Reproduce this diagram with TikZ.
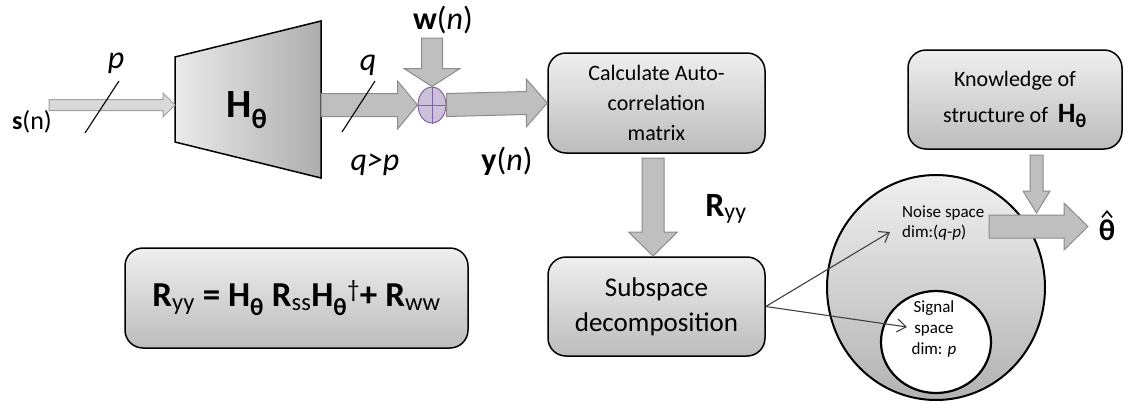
\documentclass[tikz,border=0pt]{standalone}
\usepackage{fontspec}
\setmainfont{Carlito}
\usetikzlibrary{calc,shapes.geometric,arrows.meta}
\definecolor{arrfill}{HTML}{BFBFBF}
\definecolor{arrdraw}{HTML}{8C8C8C}
\definecolor{lfill}{HTML}{D9D9D9}
\definecolor{ldraw}{HTML}{A0A0A0}
\definecolor{sumfill}{HTML}{CCC0DA}
\definecolor{sumdraw}{HTML}{8064A2}
\definecolor{boxtop}{HTML}{EFEFEF}
\definecolor{boxbot}{HTML}{BCBCBC}
\definecolor{thinline}{HTML}{404040}
\newcommand{\hblock}[6]{\draw[#1] ($(#2)+(0,#4)$) -- ($(#3)+(-#6,#4)$) -- ($(#3)+(-#6,#5)$) -- (#3) -- ($(#3)+(-#6,-#5)$) -- ($(#3)+(-#6,-#4)$) -- ($(#2)+(0,-#4)$) -- cycle;}
\newcommand{\vblock}[6]{\draw[#1] ($(#2)+(#4,0)$) -- ($(#3)+(#4,-#6)$) -- ($(#3)+(#5,-#6)$) -- (#3) -- ($(#3)+(-#5,-#6)$) -- ($(#3)+(-#4,-#6)$) -- ($(#2)+(-#4,0)$) -- cycle;}
\begin{document}
\begin{tikzpicture}[x=1pt,y=-1pt,
  blockarr/.style={fill=arrfill,draw=arrdraw,line width=1pt,line join=miter},
  lightarr/.style={fill=lfill,draw=ldraw,line width=1pt,line join=miter},
  roundbox/.style={draw=black,line width=1.5pt,rounded corners=18pt,top color=boxtop,bottom color=boxbot,align=center,inner sep=0pt},
  lbl/.style={inner sep=0pt,font=\fontsize{32}{36}\selectfont},
  slash/.style={draw=black,line width=1.1pt},
  thinarr/.style={draw=thinline,line width=1.1pt,-{Straight Barb[length=9pt,width=13pt,line width=1.1pt]}}]
\useasboundingbox (0,0) rectangle (1135,407);

% trapezoid
\draw[line width=1.5pt,left color=black!8,right color=black!32] (175,57) -- (321,21) -- (321,178) -- (175,142) -- cycle;
\coordinate (trapL) at (175,105);
\coordinate (trapR) at (321,105);
\node[inner sep=0pt,font=\fontsize{40}{44}\selectfont\bfseries] (H) at (247,110) {H\textsubscript{θ}};

% input
\coordinate (sA) at (49,105);
\hblock{lightarr}{sA}{trapL}{5.5}{12}{12}
\node[lbl,font=\fontsize{26}{30}\selectfont] (sn) at (32,122) {\textbf{s}(n)};
\node[lbl] (p) at (116,63) {\itshape p};
\draw[slash] (85,133) -- (119,81);

% sum
\node[ellipse,draw=sumdraw,fill=sumfill,line width=1pt,minimum width=28,minimum height=36,inner sep=0pt] (sum) at (432,105) {};
\draw[sumdraw,line width=1pt] (sum.north) -- (sum.south) (sum.west) -- (sum.east);

% q arrow
\hblock{blockarr}{trapR}{sum.west}{11.5}{24}{20}
\node[lbl] (q) at (368,65) {\itshape q};
\draw[slash] (342,132) -- (375,81);
\node[lbl] (qp) at (375,165) {\itshape q>p};

% w arrow
\coordinate (wA) at (432,38);
\vblock{blockarr}{wA}{sum.north}{10.5}{28}{18}
\node[lbl] (wn) at (443,20) {\textbf{w}(\textit{n})};

% calc box
\node[roundbox,minimum width=217,minimum height=100,font=\fontsize{22}{30}\selectfont] (calc) at (656.5,103) {Calculate Auto-\\correlation\\matrix};
\hblock{blockarr}{sum.east}{calc.west}{11.5}{24}{21}
\node[lbl] (yn) at (507,161) {\textbf{y}(\textit{n})};

% subspace box
\node[roundbox,minimum width=217,minimum height=99,font=\fontsize{27}{35}\selectfont] (sub) at (656.5,306.5) {Subspace\\decomposition};
\coordinate (cA) at (653,158);
\coordinate (cB) at (653,256);
\vblock{blockarr}{cA}{cB}{11}{24.5}{24}
\node[inner sep=0pt,font=\fontsize{34}{38}\selectfont] (Ryy) at (726,209) {\textbf{R}\textsubscript{yy}};

% formula box
\node[roundbox,minimum width=343,minimum height=100,font=\fontsize{35}{38}\selectfont] (form) at (296.5,298) {\textbf{R}\textsubscript{yy} \textbf{= H\textsubscript{θ} R}\textsubscript{ss}\textbf{H\textsubscript{θ}}\textsuperscript{†}\textbf{+ R}\textsubscript{ww}};

% knowledge box
\node[roundbox,minimum width=214,minimum height=99,font=\fontsize{22}{36}\selectfont] (know) at (1015,99.5) {Knowledge of\\structure of \ {\fontsize{28}{30}\selectfont\bfseries H\textsubscript{θ}}};

% spaces
\node[ellipse,draw=black,line width=2pt,top color=black!6,bottom color=black!30,minimum width=218,minimum height=225,inner sep=0pt] (noise) at (936,287.5) {};
\node[ellipse,draw=black,line width=2.2pt,fill=white,minimum width=110,minimum height=102,inner sep=0pt] (sig) at (936,342) {};
\node[anchor=west,align=left,inner sep=0pt,font=\fontsize{17}{20}\selectfont] (ntext) at (902,223) {Noise space\\dim:(\textit{q}-\textit{p})};
\node[align=center,inner sep=0pt,font=\fontsize{17}{21}\selectfont] (stext) at (934,329) {Signal\\space\\dim: \textit{p}};
\coordinate (nz) at (890,232);
\coordinate (sg) at (907,327);
\draw[thinarr] (sub.east) -- (nz);
\draw[thinarr] (sub.east) -- (sg);

% theta arrow
\coordinate (tA) at (989,226.5);
\coordinate (tB) at (1088,226.5);
\hblock{blockarr}{tA}{tB}{11.5}{23.5}{24}
\coordinate (kA) at (1036.5,155);
\coordinate (kB) at (1036.5,213);
\vblock{blockarr}{kA}{kB}{6.5}{13.5}{22}
\node[inner sep=0pt,font=\fontsize{30}{34}\selectfont\bfseries] (th) at (1107,230) {θ};
\draw[line width=1.6pt,line join=miter] ($(th.north)+(-5,-2)$) -- ($(th.north)+(0,-8)$) -- ($(th.north)+(5,-2)$);
\end{tikzpicture}
\end{document}
